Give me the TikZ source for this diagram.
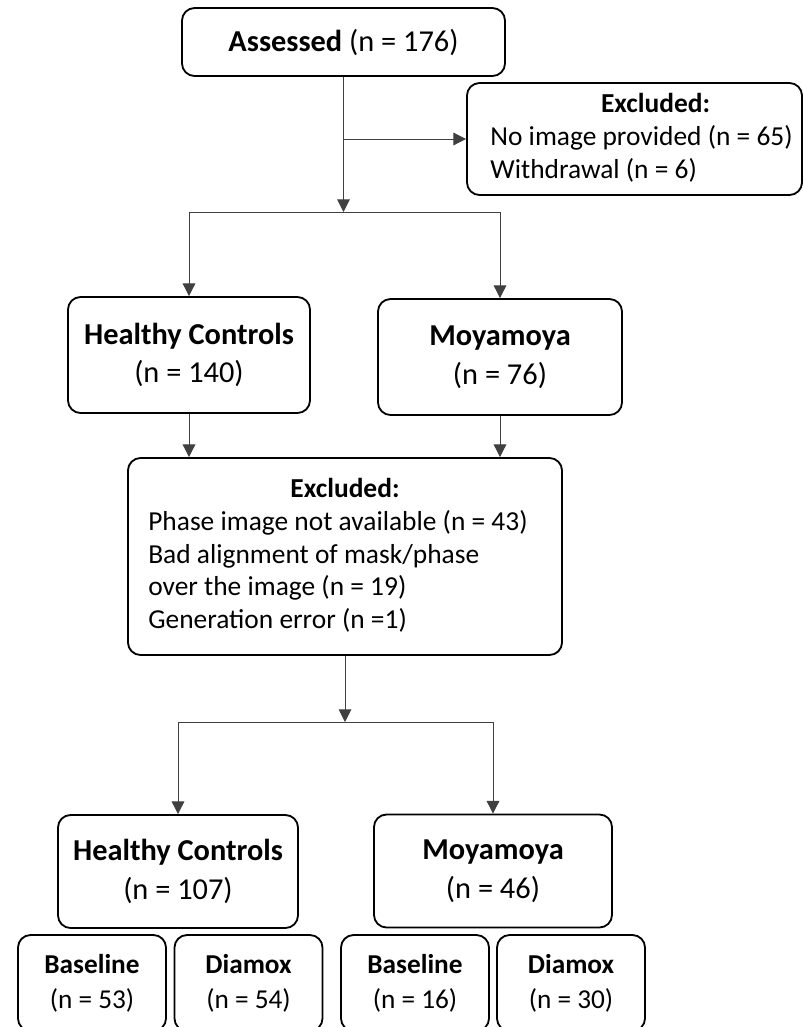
\documentclass[tikz,border=0pt]{standalone}
\usepackage{fontspec}
\setmainfont{Carlito}
\usetikzlibrary{arrows.meta}

\begin{document}
\begin{tikzpicture}[x=0.025cm, y=-0.025cm,
    box/.style={draw, line width=1.3pt, rounded corners=9pt, align=center, inner sep=0pt, font=\fontsize{21.6}{27.5}\selectfont},
    listbox/.style={box, font=\fontsize{19.5}{23.4}\selectfont},
    smallbox/.style={box, minimum width=3.7cm, minimum height=2.4cm, font=\fontsize{19.4}{24.8}\selectfont},
    flow/.style={-{Triangle[width=9pt,length=9pt]}, line width=0.7pt, draw=black!75},
    link/.style={line width=0.7pt, draw=black!75}]
    \clip (0,0) rectangle (803,1027);
    % screening
    \node[box, minimum width=8.075cm, minimum height=1.7cm] (assessed) at (343.5,42) {\textbf{Assessed} (n = 176)};
    \node[listbox, minimum width=8.375cm, minimum height=2.8cm] (excl1) at (634.5,139) {\begin{tabular}{@{\hspace{10pt}}l@{}}\multicolumn{1}{@{}c@{}}{\hspace{30pt}\textbf{Excluded:}}\\ No image provided (n = 65)\\ Withdrawal (n = 6)\end{tabular}};
    % groups
    \node[box, minimum width=6.05cm, minimum height=2.9cm] (hc1) at (189,355) {\textbf{Healthy Controls}\\ (n = 140)};
    \node[box, minimum width=6.1cm, minimum height=2.9cm] (mm1) at (500,357) {\textbf{Moyamoya}\\ (n = 76)};
    \node[listbox, minimum width=10.85cm, minimum height=4.925cm] (excl2) at (345,556.5) {\begin{tabular}{@{}l@{\hspace{10pt}}}\multicolumn{1}{@{}c@{}}{\textbf{Excluded:}}\\ Phase image not available (n = 43)\\ Bad alignment of mask/phase\\ over the image (n = 19)\\ Generation error (n =1)\end{tabular}};
    % final groups
    \node[box, minimum width=6.0cm, minimum height=2.825cm] (hc2) at (178,871.5) {\textbf{Healthy Controls}\\ (n = 107)};
    \node[box, minimum width=5.95cm, minimum height=2.825cm] (mm2) at (493,871) {\textbf{Moyamoya}\\ (n = 46)};
    \node[smallbox] (hcbase) at (92,983) {\textbf{Baseline}\\ (n = 53)};
    \node[smallbox] (hcdiam) at (248.5,983) {\textbf{Diamox}\\ (n = 54)};
    \node[smallbox] (mmbase) at (415,983) {\textbf{Baseline}\\ (n = 16)};
    \node[smallbox] (mmdiam) at (571,983) {\textbf{Diamox}\\ (n = 30)};
    % connectors
    \coordinate (split1) at (343.5,212);
    \coordinate (side1) at (343.5,139);
    \draw[flow] (assessed) -- (split1);
    \draw[flow] (side1) -- (excl1.west);
    \draw[link] (hc1.north |- split1) -- (mm1.north |- split1);
    \draw[flow] (hc1.north |- split1) -- (hc1);
    \draw[flow] (mm1.north |- split1) -- (mm1);
    \draw[flow] (hc1) -- (hc1 |- excl2.north);
    \draw[flow] (mm1) -- (mm1 |- excl2.north);
    \coordinate (split2) at (345,722);
    \draw[flow] (excl2) -- (split2);
    \draw[link] (hc2.north |- split2) -- (mm2.north |- split2);
    \draw[flow] (hc2.north |- split2) -- (hc2);
    \draw[flow] (mm2.north |- split2) -- (mm2);
\end{tikzpicture}
\end{document}
